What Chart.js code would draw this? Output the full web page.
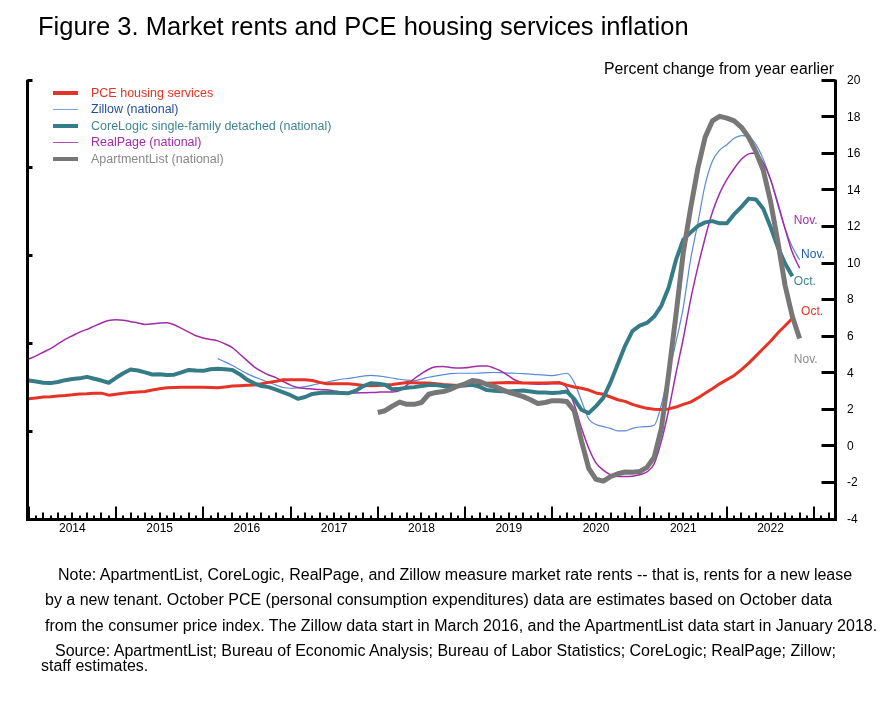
<!DOCTYPE html>
<html>
<head>
<meta charset="utf-8">
<script src="https://cdn.jsdelivr.net/npm/chart.js@4.4.0/dist/chart.umd.min.js"></script>
<style>
body { margin: 0; background: #fff; }
#wrap { position: relative; width: 886px; height: 707px; overflow: hidden;
        font-family: "Liberation Sans", Arial, Helvetica, sans-serif; color: #000; }
#wrap canvas { position: absolute; left: 0; top: 0; }
.t { position: absolute; white-space: nowrap; line-height: 1; }
.leg { position: absolute; left: 53px; height: 1px; font-size: 12.5px; line-height: 1; }
.leg i { position: absolute; left: 0; width: 25px; }
.leg span { position: absolute; left: 38px; top: -6.5px; white-space: nowrap; }
</style>
</head>
<body>
<div id="wrap">
  <canvas id="myChart" width="886" height="707"></canvas>
  <div class="t" style="left:38px;top:14.4px;font-size:25.5px;">Figure 3. Market rents and PCE housing services inflation</div>
  <div class="t" style="right:52px;top:60.6px;font-size:15.8px;">Percent change from year earlier</div>
  <div class="t" style="left:58px;top:566.5px;font-size:16px;">Note: ApartmentList, CoreLogic, RealPage, and Zillow measure market rate rents -- that is, rents for a new lease</div>
  <div class="t" style="left:45px;top:592.2px;font-size:16px;">by a new tenant. October PCE (personal consumption expenditures) data are estimates based on October data</div>
  <div class="t" style="left:45px;top:617.5px;font-size:16px;">from the consumer price index. The Zillow data start in March 2016, and the ApartmentList data start in January 2018.</div>
  <div class="t" style="left:55px;top:643.2px;font-size:16px;">Source: ApartmentList; Bureau of Economic Analysis; Bureau of Labor Statistics; CoreLogic; RealPage; Zillow;</div>
  <div class="t" style="left:41px;top:658.2px;font-size:16px;">staff estimates.</div>
</div>
<script>
// months counted from Jan 2014 = 0
var yearLabels = ["2014","2015","2016","2017","2018","2019","2020","2021","2022"];
var yearMid = [6,18,30,42,54,66,78,90,102];
var rightTicks = [-4,-2,0,2,4,6,8,10,12,14,16,18,20];
var leftTicks = [0,5,10,15,20,25];

var pceStart = 0;
var pce = [2.6,2.65,2.7,2.72,2.75,2.78,2.82,2.87,2.88,2.9,2.91,2.8,
  2.85,2.9,2.94,2.97,3.0,3.08,3.15,3.2,3.22,3.24,3.24,3.24,
  3.23,3.22,3.2,3.25,3.3,3.32,3.34,3.36,3.42,3.5,3.56,3.64,
  3.65,3.64,3.64,3.6,3.5,3.43,3.42,3.42,3.42,3.38,3.33,3.31,
  3.33,3.35,3.38,3.44,3.49,3.48,3.47,3.46,3.42,3.38,3.36,3.33,
  3.31,3.35,3.4,3.45,3.47,3.48,3.49,3.48,3.47,3.46,3.46,3.46,
  3.48,3.49,3.35,3.25,3.18,3.08,2.92,2.85,2.7,2.55,2.46,2.3,
  2.18,2.08,2.03,2.02,2.05,2.15,2.3,2.42,2.65,2.9,3.15,3.42,
  3.65,3.88,4.2,4.55,4.95,5.35,5.75,6.2,6.6,7.0];

var zillowStart = 26;
var zillow = [4.8,4.62,4.42,4.2,3.98,3.8,3.65,3.5,3.35,3.22,
  3.18,3.2,3.27,3.35,3.45,3.52,3.6,3.67,3.72,3.78,3.84,3.88,
  3.86,3.8,3.74,3.67,3.62,3.6,3.68,3.78,3.86,3.92,3.98,4.0,
  4.0,4.0,4.01,4.03,4.04,4.03,4.01,4.0,3.98,3.95,3.92,3.9,
  3.87,3.93,4.0,3.5,2.5,1.5,1.2,1.08,0.98,0.85,0.85,0.98,
  1.06,1.08,1.15,2.3,4.0,5.7,7.6,10.2,12.2,14.3,15.6,16.2,
  16.5,16.85,17.0,16.95,16.5,15.7,14.6,13.2,11.9,10.9,10.2];

var coreStart = 0;
var core = [3.6,3.55,3.48,3.46,3.52,3.62,3.68,3.72,3.8,3.7,3.6,3.48,
  3.75,4.0,4.2,4.15,4.05,3.93,3.95,3.9,3.92,4.05,4.18,4.15,
  4.13,4.22,4.25,4.22,4.18,3.95,3.65,3.45,3.3,3.24,3.1,2.95,
  2.8,2.6,2.7,2.87,2.92,2.94,2.93,2.92,2.91,3.05,3.3,3.45,
  3.42,3.37,3.12,3.15,3.2,3.24,3.3,3.35,3.35,3.3,3.27,3.3,
  3.34,3.36,3.25,3.08,3.04,3.02,3.0,3.03,3.05,3.0,2.95,2.94,
  2.92,2.95,3.0,2.6,2.0,1.82,2.2,2.65,3.5,4.5,5.5,6.3,
  6.6,6.75,7.1,7.7,8.7,10.2,11.3,11.7,12.05,12.25,12.32,12.2,
  12.2,12.7,13.1,13.55,13.5,13.0,12.0,10.9,10.0,9.3];

var realStart = 0;
var realpage = [4.78,4.95,5.15,5.35,5.6,5.85,6.05,6.25,6.4,6.58,6.75,6.88,
  6.92,6.9,6.82,6.75,6.67,6.7,6.75,6.76,6.65,6.45,6.25,6.05,
  5.93,5.85,5.77,5.6,5.4,5.05,4.7,4.35,4.1,3.9,3.76,3.55,
  3.35,3.22,3.17,3.14,3.11,3.09,3.03,2.97,2.92,2.92,2.93,2.94,
  2.96,2.98,2.98,3.05,3.35,3.7,3.98,4.22,4.35,4.37,4.32,4.28,
  4.3,4.35,4.4,4.4,4.28,4.1,3.85,3.6,3.48,3.42,3.4,3.41,
  3.42,3.42,3.2,2.3,1.0,-0.1,-0.9,-1.3,-1.55,-1.65,-1.65,-1.63,
  -1.55,-1.4,-0.95,0.3,2.0,4.0,5.9,8.0,9.8,11.4,12.8,13.84,
  14.6,15.2,15.7,16.0,16.05,15.5,14.6,13.3,11.9,10.6,9.75];

var aptStart = 48;
var apt = [1.85,1.95,2.2,2.42,2.3,2.3,2.4,2.85,2.95,3.0,3.12,3.3,
  3.42,3.6,3.55,3.38,3.28,3.12,2.96,2.85,2.72,2.55,2.35,2.4,
  2.5,2.5,2.45,1.95,0.3,-1.2,-1.8,-1.9,-1.65,-1.5,-1.4,-1.42,
  -1.38,-1.15,-0.6,1.0,4.0,7.2,10.6,13.0,15.2,16.9,17.8,18.05,
  17.95,17.8,17.45,16.9,16.1,15.1,13.4,11.2,8.8,7.1,5.9];

// end-of-line notes (text, month, value, colour)
var endText = ["Nov.","Nov.","Oct.","Oct.","Nov."];
var endMonth = [105.2,106.2,105.2,106.2,105.2];
var endValue = [12.34,10.48,9.0,7.36,4.73];
var endColor = ["#a12ca8","#1f5bb5","#3f8591","#e63325","#8a8a8a"];

function toPoints(start, arr) {
  return arr.map(function (v, i) { return { x: start + i, y: v }; });
}

Chart.defaults.font.family = '"Liberation Sans", Arial, Helvetica, sans-serif';
Chart.defaults.color = '#000';

var frameAxes = {
  id: 'frameAxes',
  afterDraw: function (chart) {
    var ctx = chart.ctx, a = chart.chartArea;
    var x = chart.scales.x, y = chart.scales.y, yL = chart.scales.yL;
    var L = Math.round(a.left) - 0.5, R = Math.round(a.right) - 0.5, B = Math.round(a.bottom) - 0.5;
    ctx.save();
    ctx.strokeStyle = '#000';
    ctx.lineWidth = 3;
    ctx.beginPath();
    ctx.moveTo(L, a.top - 1); ctx.lineTo(L, B + 1.5);
    ctx.moveTo(L - 1.5, B); ctx.lineTo(R + 1.5, B);
    ctx.moveTo(R, a.top - 1); ctx.lineTo(R, B + 1.5);
    rightTicks.forEach(function (v) {
      var py = Math.round(y.getPixelForValue(v)) - 0.5;
      ctx.moveTo(R - 14, py); ctx.lineTo(R, py);
    });
    leftTicks.forEach(function (v) {
      var py = Math.round(yL.getPixelForValue(v)) - 0.5;
      ctx.moveTo(L, py); ctx.lineTo(L + 5, py);
    });
    ctx.stroke();
    ctx.lineWidth = 2;
    ctx.beginPath();
    for (var m = 0; m <= 111; m++) {
      var px = Math.round(x.getPixelForValue(m));
      var len = m % 12 === 0 ? 13 : (m % 2 === 0 ? 7 : 4);
      ctx.moveTo(px, B); ctx.lineTo(px, B - len);
    }
    ctx.stroke();
    ctx.font = '12px "Liberation Sans", Arial, sans-serif';
    ctx.textAlign = 'left';
    ctx.textBaseline = 'middle';
    endText.forEach(function (t, i) {
      ctx.fillStyle = endColor[i];
      ctx.fillText(t, x.getPixelForValue(endMonth[i]), y.getPixelForValue(endValue[i]));
    });
    ctx.restore();
  }
};

var ctx = document.getElementById("myChart");
var myChart = new Chart(ctx, {
  type: 'line',
  data: {
    datasets: [
      { data: toPoints(pceStart, pce), label: "PCE housing services",
        borderColor: "#e63325", borderWidth: 3, order: 3, tension: 0,
        legendLine: "#e63325", legendText: "#e63325", legendWidth: 3.5 },
      { data: toPoints(zillowStart, zillow), label: "Zillow (national)",
        borderColor: "#5a8ad6", borderWidth: 1.2, order: 5, cubicInterpolationMode: 'monotone',
        legendLine: "#7aa5e2", legendText: "#1f4e9c", legendWidth: 1.5 },
      { data: toPoints(coreStart, core), label: "CoreLogic single-family detached (national)",
        borderColor: "#357c87", borderWidth: 4, order: 2, tension: 0,
        legendLine: "#357c87", legendText: "#3f8591", legendWidth: 4 },
      { data: toPoints(realStart, realpage), label: "RealPage (national)",
        borderColor: "#a12ca8", borderWidth: 1.5, order: 4, cubicInterpolationMode: 'monotone',
        legendLine: "#b350b8", legendText: "#a12ca8", legendWidth: 1.5 },
      { data: toPoints(aptStart, apt), label: "ApartmentList (national)",
        borderColor: "#777777", borderWidth: 5, order: 1, tension: 0,
        legendLine: "#777777", legendText: "#888888", legendWidth: 4.5 }
    ]
  },
  options: {
    responsive: false,
    animation: false,
    events: [],
    layout: { padding: { left: 28, top: 80.7, right: 0, bottom: 0 } },
    elements: { point: { radius: 0 }, line: { fill: false, borderJoinStyle: 'round' } },
    plugins: { legend: { display: false }, tooltip: { enabled: false } },
    scales: {
      x: {
        type: 'linear', position: 'bottom', min: -0.1, max: 111,
        grid: { display: false, drawTicks: false }, border: { display: false },
        afterBuildTicks: function (s) { s.ticks = yearMid.map(function (v) { return { value: v }; }); },
        afterFit: function (s) { s.height = 187.5; },
        ticks: { autoSkip: false, maxRotation: 0, padding: 2, font: { size: 12 },
                 callback: function (v, i) { return yearLabels[i]; } }
      },
      y: {
        position: 'right', min: -4, max: 20,
        grid: { display: false, drawTicks: false }, border: { display: false },
        afterFit: function (s) { s.width = 50; },
        ticks: { stepSize: 2, padding: 11, font: { size: 12 } }
      },
      yL: { display: false, position: 'left', min: 0, max: 25 }
    }
  },
  plugins: [frameAxes]
});

// legend built from the chart's datasets
var legendTop = [93, 109.5, 126, 142.5, 159];
myChart.data.datasets.forEach(function (ds, i) {
  var row = document.createElement('div');
  row.className = 'leg';
  row.style.top = legendTop[i] + 'px';
  var sw = document.createElement('i');
  sw.style.background = ds.legendLine;
  sw.style.height = ds.legendWidth + 'px';
  sw.style.top = (-ds.legendWidth / 2) + 'px';
  var tx = document.createElement('span');
  tx.style.color = ds.legendText;
  tx.textContent = ds.label;
  row.appendChild(sw);
  row.appendChild(tx);
  document.getElementById('wrap').appendChild(row);
});
</script>
</body>
</html>
